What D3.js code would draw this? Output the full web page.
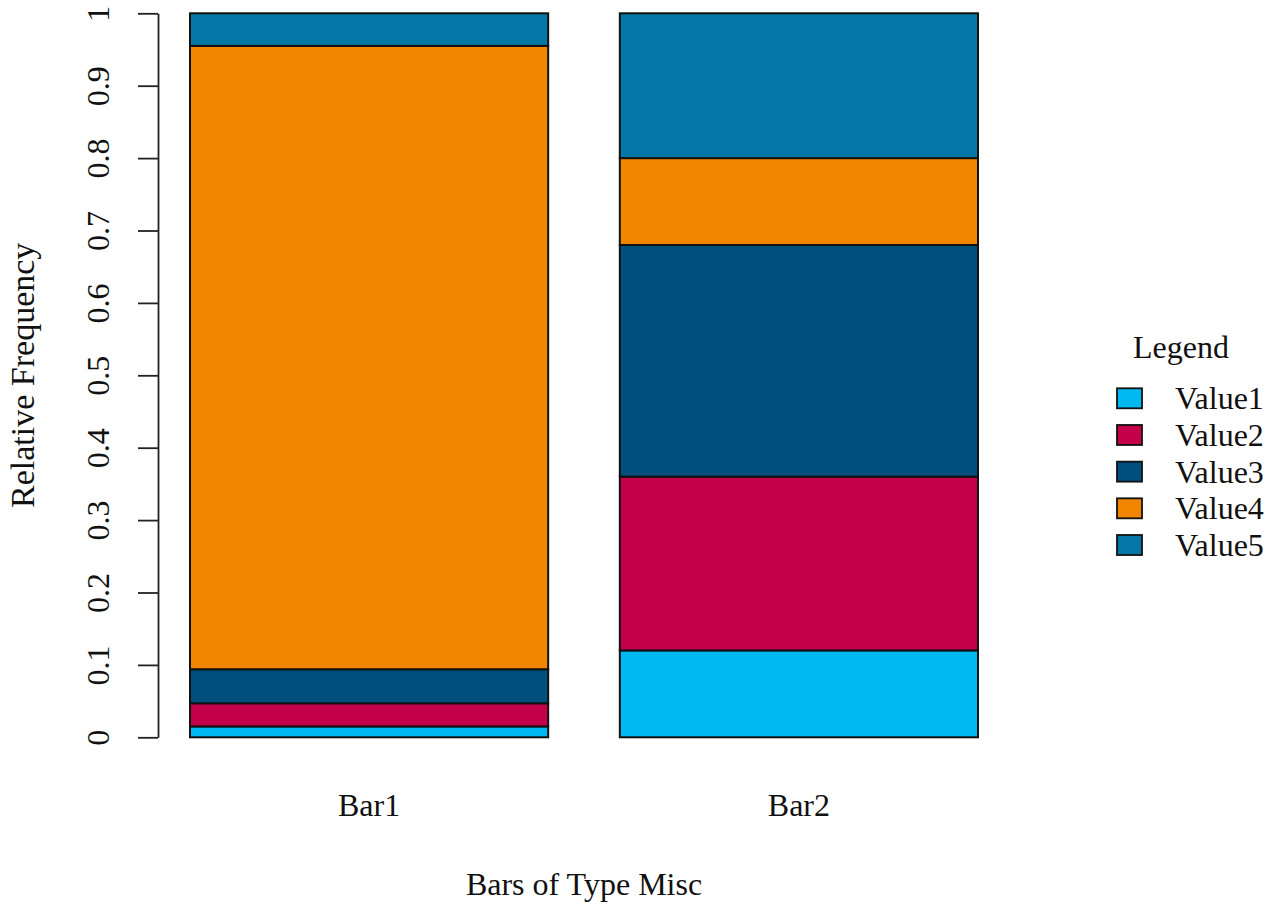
<!DOCTYPE html>
<html>
<head>
<meta charset="utf-8">
<script src="https://cdn.jsdelivr.net/npm/d3@7"></script>
<style>
  html, body { margin: 0; padding: 0; background: #fff; }
  svg { display: block; }
  text { font-family: "Liberation Serif", "Times New Roman", serif; fill: #111; }
</style>
</head>
<body>
<svg id="chart" width="1284" height="905"></svg>
<script>
// ---- data ----
const categories = ["Bar1", "Bar2"];
const seriesNames = ["Value1", "Value2", "Value3", "Value4", "Value5"];
const value1 = [0.015, 0.12];
const value2 = [0.032, 0.24];
const value3 = [0.047, 0.32];
const value4 = [0.861, 0.12];
const value5 = [0.045, 0.20];
const seriesColors = ["#00B9F1", "#C4004A", "#004E7C", "#F08500", "#0377A6"];
const yTickValues = [0, 0.1, 0.2, 0.3, 0.4, 0.5, 0.6, 0.7, 0.8, 0.9, 1];
const yTickLabels = ["0", "0.1", "0.2", "0.3", "0.4", "0.5", "0.6", "0.7", "0.8", "0.9", "1"];
const xTitle = "Bars of Type Misc";
const yTitle = "Relative Frequency";
const legendTitle = "Legend";

// ---- build table ----
const allValues = [value1, value2, value3, value4, value5];
const rows = categories.map((c, i) => {
  const r = { cat: c };
  seriesNames.forEach((s, j) => { r[s] = allValues[j][i]; });
  return r;
});
const stacked = d3.stack().keys(seriesNames)(rows);

const svg = d3.select("#chart");
const FS = 32;

const x = d3.scaleBand().domain(categories).range([190, 978]).paddingInner(1 / 6).paddingOuter(0);
const y = d3.scaleLinear().domain([0, 1]).range([737.3, 13.3]);
const color = d3.scaleOrdinal().domain(seriesNames).range(seriesColors);

// bars
svg.append("g").selectAll("g")
  .data(stacked)
  .join("g")
  .attr("fill", d => color(d.key))
  .selectAll("rect")
  .data(d => d)
  .join("rect")
  .attr("x", d => x(d.data.cat))
  .attr("width", x.bandwidth())
  .attr("y", d => y(d[1]))
  .attr("height", d => y(d[0]) - y(d[1]))
  .attr("stroke", "#111")
  .attr("stroke-width", 2);

// y axis
const yAxis = d3.axisLeft(y)
  .tickValues(yTickValues)
  .tickFormat((d, i) => yTickLabels[i])
  .tickSize(20)
  .tickSizeOuter(0)
  .tickPadding(0);
const gy = svg.append("g").attr("transform", "translate(158,0)").call(yAxis);
gy.select(".domain").attr("stroke", "#222").attr("stroke-width", 1.8);
gy.selectAll(".tick line").attr("stroke", "#222").attr("stroke-width", 1.8);
gy.selectAll(".tick text")
  .attr("x", null).attr("dy", null)
  .attr("text-anchor", "middle")
  .attr("transform", "translate(-49.5,0) rotate(-90)")
  .attr("y", 0)
  .style("font-size", FS + "px")
  .style("font-family", "'Liberation Serif', serif")
  .attr("fill", "#111");

// x labels
svg.append("g").selectAll("text")
  .data(categories)
  .join("text")
  .attr("x", d => x(d) + x.bandwidth() / 2)
  .attr("y", 815.7)
  .attr("text-anchor", "middle")
  .style("font-size", FS + "px")
  .text(d => d);

// axis titles
svg.append("text")
  .attr("x", (x.range()[0] + x.range()[1]) / 2)
  .attr("y", 895)
  .attr("text-anchor", "middle")
  .style("font-size", FS + "px")
  .text(xTitle);

svg.append("text")
  .attr("transform", `translate(33.5,${(y(0) + y(1)) / 2}) rotate(-90)`)
  .attr("text-anchor", "middle")
  .style("font-size", (FS + 2) + "px")
  .text(yTitle);

// legend
const leg = svg.append("g");
leg.append("text")
  .attr("x", 1133)
  .attr("y", 357.5)
  .style("font-size", FS + "px")
  .text(legendTitle);
const rowY = d3.scalePoint().domain(seriesNames).range([398.3, 545]);
const items = leg.selectAll("g.item").data(seriesNames).join("g").attr("class", "item");
items.append("rect")
  .attr("x", 1117)
  .attr("y", d => rowY(d) - 10)
  .attr("width", 25)
  .attr("height", 20)
  .attr("fill", d => color(d))
  .attr("stroke", "#111")
  .attr("stroke-width", 1.8);
items.append("text")
  .attr("x", 1175)
  .attr("y", d => rowY(d) + 11)
  .style("font-size", FS + "px")
  .text(d => d);
</script>
</body>
</html>
